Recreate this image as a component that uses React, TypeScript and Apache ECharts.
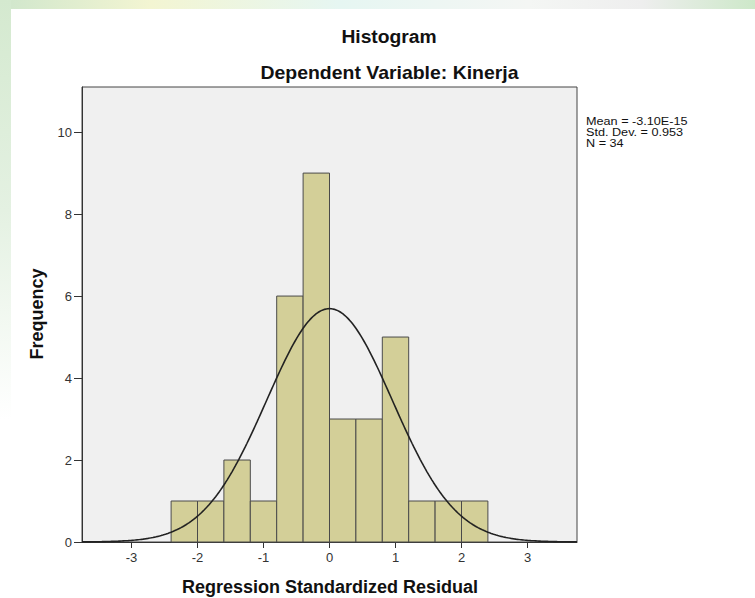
import React, { useEffect, useRef } from "react";
import * as echarts from "echarts";

// Histogram bins (Regression Standardized Residual)
const BIN_STARTS = [-2.4, -2.0, -1.6, -1.2, -0.8, -0.4, 0.0, 0.4, 0.8, 1.2, 1.6, 2.0];
const BIN_ENDS = [-2.0, -1.6, -1.2, -0.8, -0.4, 0.0, 0.4, 0.8, 1.2, 1.6, 2.0, 2.4];
const COUNTS = [1, 1, 2, 1, 6, 9, 3, 3, 5, 1, 1, 1];

// Tick labels
const X_TICKS = [-3, -2, -1, 0, 1, 2, 3];
const Y_TICKS = [0, 2, 4, 6, 8, 10];

// Summary statistics shown in the legend
const MEAN = -3.1e-15;
const STD_DEV = 0.953;
const N = 34;
const STAT_LINES = ["Mean = -3.10E-15", "Std. Dev. = 0.953", "N = 34"];

const FONT = "'Liberation Sans', Arial, sans-serif";

export default function App() {
  const ref = useRef<HTMLDivElement>(null);

  useEffect(() => {
    if (!ref.current) return;
    const chart = echarts.init(ref.current, null, { renderer: "svg" });

    const binWidth = BIN_ENDS[0] - BIN_STARTS[0];
    const xMin = -3.75;
    const xMax = 3.75;
    const curve: number[][] = [];
    for (let i = 0; i <= 300; i++) {
      const x = xMin + ((xMax - xMin) * i) / 300;
      const z = (x - MEAN) / STD_DEV;
      const y = (N * binWidth * Math.exp(-0.5 * z * z)) / (STD_DEV * Math.sqrt(2 * Math.PI));
      curve.push([x, y]);
    }

    const barData = COUNTS.map((c, i) => [BIN_STARTS[i], BIN_ENDS[i], c]);

    const statTexts = STAT_LINES.map((t, i) => ({
      type: "text",
      x: 586,
      y: 115 + i * 11,
      scaleX: 1.1,
      style: {
        text: t,
        font: `11.5px ${FONT}`,
        fill: "#111",
        textAlign: "left",
        textVerticalAlign: "top",
      },
    }));

    chart.setOption({
      animation: false,
      backgroundColor: "#ffffff",
      grid: {
        left: 82,
        top: 87,
        width: 495,
        height: 455,
        show: true,
        backgroundColor: "#f0f0f0",
        borderColor: "#444",
        borderWidth: 1,
        containLabel: false,
      },
      xAxis: {
        type: "value",
        min: xMin,
        max: xMax,
        splitLine: { show: false },
        axisLine: { show: true, onZero: false, lineStyle: { color: "#333", width: 1 } },
        axisTick: {
          show: true,
          customValues: X_TICKS,
          length: 6,
          lineStyle: { color: "#333" },
        },
        axisLabel: {
          customValues: X_TICKS,
          fontSize: 13,
          color: "#333",
          fontFamily: FONT,
          margin: 9,
        },
      },
      yAxis: {
        type: "value",
        min: 0,
        max: 11.1,
        splitLine: { show: false },
        axisLine: { show: true, onZero: false, lineStyle: { color: "#333", width: 1 } },
        axisTick: {
          show: true,
          customValues: Y_TICKS,
          length: 8,
          lineStyle: { color: "#333" },
        },
        axisLabel: {
          customValues: Y_TICKS,
          fontSize: 13,
          color: "#333",
          fontFamily: FONT,
          margin: 10,
        },
      },
      series: [
        {
          type: "custom",
          data: barData,
          encode: { x: [0, 1], y: 2 },
          renderItem: (params: any, api: any) => {
            const p0 = api.coord([api.value(0), api.value(2)]);
            const p1 = api.coord([api.value(1), 0]);
            return {
              type: "rect",
              shape: { x: p0[0], y: p0[1], width: p1[0] - p0[0], height: p1[1] - p0[1] },
              style: { fill: "#d3cf98", stroke: "#4a4a4a", lineWidth: 1 },
            };
          },
          z: 2,
        },
        {
          type: "line",
          data: curve,
          showSymbol: false,
          symbol: "none",
          smooth: false,
          lineStyle: { color: "#222", width: 1.6 },
          z: 3,
        },
      ],
      graphic: [
        {
          type: "rect",
          silent: true,
          shape: { x: 0, y: 0, width: 755, height: 9 },
          style: {
            fill: new echarts.graphic.LinearGradient(0, 0, 1, 0, [
              { offset: 0, color: "#cfe6cc" },
              { offset: 0.2, color: "#f3f5d2" },
              { offset: 0.45, color: "#e6f6f2" },
              { offset: 0.7, color: "#f4f6f4" },
              { offset: 0.85, color: "#eeeeee" },
              { offset: 1, color: "#cde8c9" },
            ]),
          },
        },
        {
          type: "rect",
          silent: true,
          shape: { x: 0, y: 0, width: 11, height: 420 },
          style: {
            fill: new echarts.graphic.LinearGradient(0, 0, 0, 1, [
              { offset: 0, color: "#d4e9cf" },
              { offset: 0.5, color: "#e4f1e2" },
              { offset: 1, color: "#ffffff" },
            ]),
          },
        },
        {
          type: "text",
          x: 389,
          y: 37,
          scaleX: 1.07,
          style: {
            text: "Histogram",
            font: `bold 18px ${FONT}`,
            fill: "#111",
            textAlign: "center",
            textVerticalAlign: "middle",
          },
        },
        {
          type: "text",
          x: 389.5,
          y: 73,
          scaleX: 1.08,
          style: {
            text: "Dependent Variable: Kinerja",
            font: `bold 18px ${FONT}`,
            fill: "#111",
            textAlign: "center",
            textVerticalAlign: "middle",
          },
        },
        {
          type: "text",
          x: 330,
          y: 587,
          style: {
            text: "Regression Standardized Residual",
            font: `bold 18px ${FONT}`,
            fill: "#111",
            textAlign: "center",
            textVerticalAlign: "middle",
          },
        },
        {
          type: "text",
          x: 37,
          y: 314,
          rotation: Math.PI / 2,
          style: {
            text: "Frequency",
            font: `bold 18px ${FONT}`,
            fill: "#111",
            textAlign: "center",
            textVerticalAlign: "middle",
          },
        },
        ...statTexts,
      ],
    });

    return () => chart.dispose();
  }, []);

  return (
    <div
      ref={ref}
      style={{ position: "fixed", left: 0, top: 0, width: 755, height: 598 }}
    />
  );
}
